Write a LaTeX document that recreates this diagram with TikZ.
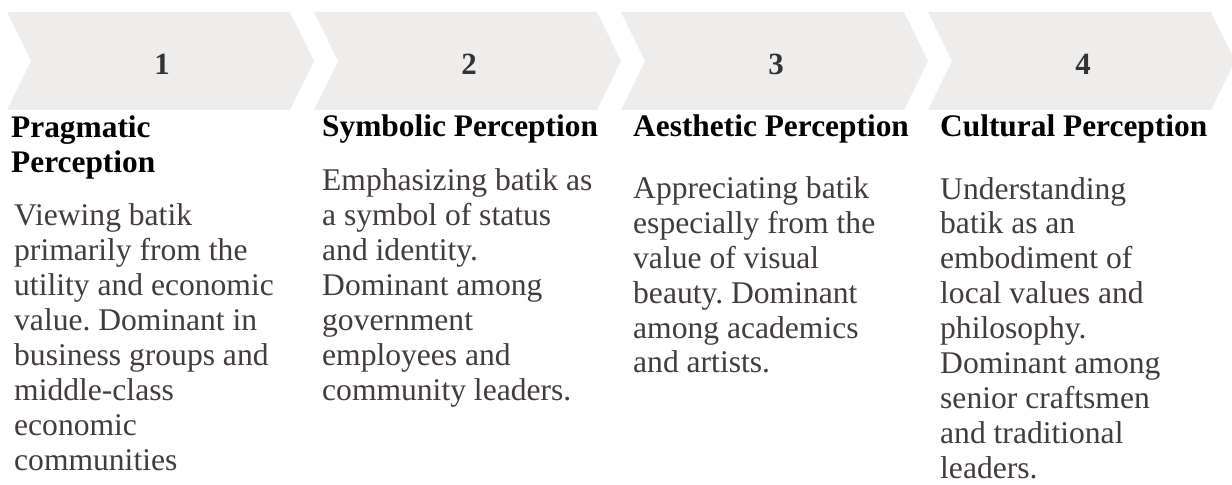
\documentclass[tikz,border=0pt]{standalone}
\usepackage{fontspec}
\setmainfont{Liberation Serif}
\usepackage{tikz}
\usetikzlibrary{positioning}
\definecolor{chevgrey}{RGB}{239,237,235}
\definecolor{numgrey}{RGB}{51,51,51}
\definecolor{bodygrey}{RGB}{66,60,59}
\frenchspacing

\begin{document}
\begin{tikzpicture}[x=1bp,y=-1bp,
  chev/.style={fill=chevgrey},
  numlbl/.style={font=\fontsize{31}{31}\selectfont\bfseries,text=numgrey,inner sep=0pt,anchor=base},
  ttl/.style={font=\fontsize{31.5}{36}\selectfont\bfseries,text=black,inner sep=0pt,anchor=base west,align=left},
  txt/.style={font=\fontsize{31.7}{35}\selectfont,text=bodygrey,inner sep=0pt,anchor=base west,align=left}]
\useasboundingbox (0,0) rectangle (1232,485);

% chevrons
\fill[chev] (7,12) -- (290,12) -- (314,61) -- (290,110) -- (7,110) -- (31,61) -- cycle;
\fill[chev] (314,12) -- (597,12) -- (621,61) -- (597,110) -- (314,110) -- (338,61) -- cycle;
\fill[chev] (621,12) -- (904,12) -- (928,61) -- (904,110) -- (621,110) -- (645,61) -- cycle;
\fill[chev] (928,12) -- (1211,12) -- (1235,61) -- (1211,110) -- (928,110) -- (952,61) -- cycle;

\node (N1) at (162,75)[numlbl] {1};
\node (N2) at (469,75)[numlbl] {2};
\node (N3) at (776,75)[numlbl] {3};
\node (N4) at (1083,75)[numlbl] {4};

% base anchor = last line
\node (T1) at (11,173)[ttl] {Pragmatic\\Perception};
\node (T2) at (322,137)[ttl] {Symbolic Perception};
\node (T3) at (633,137)[ttl] {Aesthetic Perception};
\node (T4) at (940,137)[ttl] {Cultural Perception};

\node (B1) at (14,470)[txt] {Viewing batik\\primarily from the\\utility and economic\\value. Dominant in\\business groups and\\middle-class\\economic\\communities};
\node (B2) at (322,400)[txt] {Emphasizing batik as\\a symbol of status\\and identity.\\Dominant among\\government\\employees and\\community leaders.};
\node (B3) at (633,373)[txt] {Appreciating batik\\especially from the\\value of visual\\beauty. Dominant\\among academics\\and artists.};
\node (B4) at (940,478)[txt] {Understanding\\batik as an\\embodiment of\\local values and\\philosophy.\\Dominant among\\senior craftsmen\\and traditional\\leaders.};
\end{tikzpicture}
\end{document}
